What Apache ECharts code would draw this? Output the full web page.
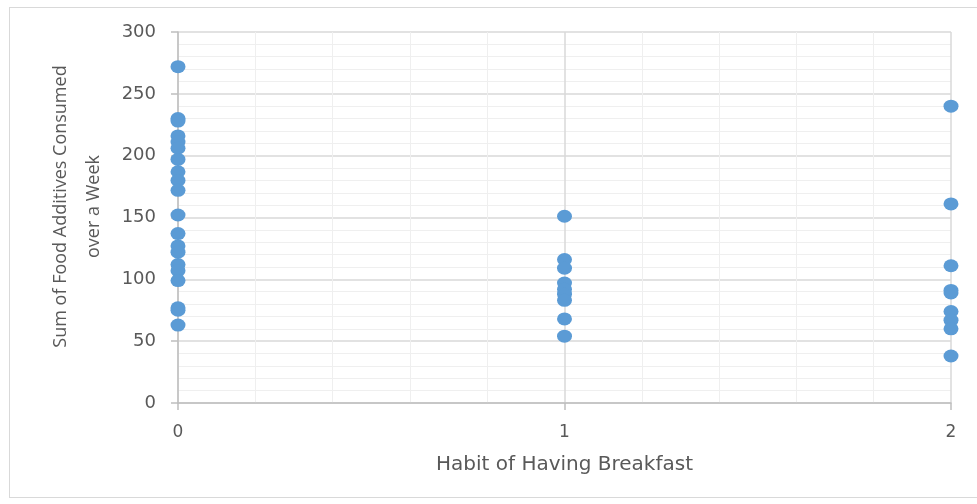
<!DOCTYPE html>
<html>
<head>
<meta charset="utf-8">
<script src="https://cdn.jsdelivr.net/npm/echarts@6/dist/echarts.min.js"></script>
<style>
html,body{margin:0;padding:0;background:#fff;}
#frame{position:absolute;left:9px;top:7px;width:990px;height:491px;border:1.5px solid #d9d9d9;box-sizing:border-box;}
#chart{position:absolute;left:0;top:0;width:977px;height:504px;}
</style>
</head>
<body>
<div id="frame"></div>
<div id="chart"></div>
<script>
const habit0 = [272, 230, 228, 216, 211, 206, 197, 187, 180, 172, 152, 137, 127, 122, 112, 107, 99, 77, 75, 63];
const habit1 = [151, 116, 109, 97, 92, 88, 83, 68, 54];
const habit2 = [240, 161, 111, 91, 89, 74, 67, 60, 38];
const xTickLabels = ['0', '1', '2'];
const yTicks = [0, 50, 100, 150, 200, 250, 300];

const data = [];
habit0.forEach(v => data.push([0, v]));
habit1.forEach(v => data.push([1, v]));
habit2.forEach(v => data.push([2, v]));

const wideFont = '"DejaVu Sans", sans-serif';
const font = '"Open Sans", "Liberation Sans", sans-serif';
const chart = echarts.init(document.getElementById('chart'));
chart.setOption({
  animation: false,
  grid: { left: 178, right: 26, top: 32, bottom: 101 },
  xAxis: {
    type: 'value', min: 0, max: 2, interval: 1,
    name: 'Habit of Having Breakfast', nameLocation: 'middle', nameGap: 52,
    nameTextStyle: { fontFamily: wideFont, fontSize: 20, color: '#595959' },
    axisLine: { show: true, lineStyle: { color: '#bfbfbf', width: 1.5 } },
    axisTick: { show: true, length: 7, lineStyle: { color: '#bfbfbf', width: 1.5 } },
    axisLabel: { fontFamily: wideFont, fontSize: 17, color: '#595959', margin: 21,
      formatter: v => xTickLabels[v] },
    splitLine: { show: true, lineStyle: { color: '#d9d9d9', width: 1.5 } },
    minorTick: { show: false, splitNumber: 5 },
    minorSplitLine: { show: true, lineStyle: { color: '#efefef', width: 1 } }
  },
  yAxis: {
    type: 'value', min: 0, max: 300, interval: 50,
    name: 'Sum of Food Additives Consumed\nover a Week', nameLocation: 'middle', nameGap: 68,
    nameTextStyle: { fontFamily: font, fontSize: 18, color: '#595959', lineHeight: 33, padding: [0, 0, 0, 22] },
    axisLine: { show: true, lineStyle: { color: '#bfbfbf', width: 1.5 } },
    axisTick: { show: true, length: 7, lineStyle: { color: '#bfbfbf', width: 1.5 } },
    axisLabel: { fontFamily: wideFont, fontSize: 18, color: '#595959', margin: 22,
      formatter: v => yTicks.includes(v) ? String(v) : '' },
    splitLine: { show: true, lineStyle: { color: '#d9d9d9', width: 1.5 } },
    minorTick: { show: false, splitNumber: 5 },
    minorSplitLine: { show: true, lineStyle: { color: '#efefef', width: 1 } }
  },
  series: [{
    type: 'scatter',
    data: data,
    symbol: 'circle',
    symbolSize: [15, 13],
    itemStyle: { color: '#5b9bd5', opacity: 1 },
    z: 10
  }]
});
</script>
</body>
</html>
